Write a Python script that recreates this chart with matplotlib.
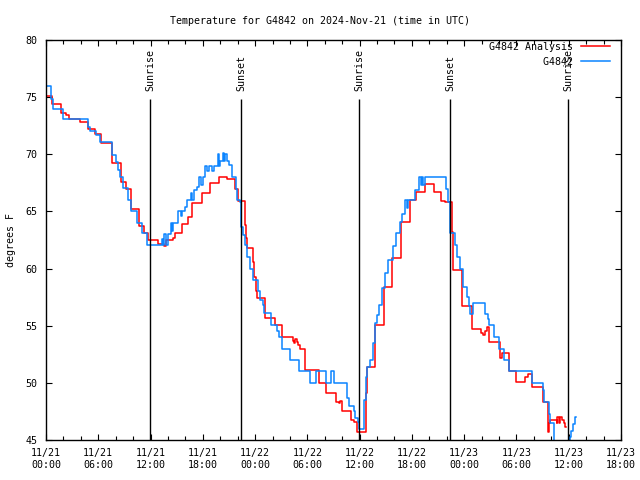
import matplotlib
matplotlib.use("Agg")
import matplotlib.pyplot as plt
import matplotlib.dates as mdates
import pandas as pd
import numpy as np

start = pd.Timestamp("2024-11-21 00:00")

# hours since 2024-11-21 00:00 UTC, step values (deg F)
obs_hours = [0.0, 0.6, 0.85, 2.0, 4.8, 5.0, 5.7, 6.2, 7.6, 8.0, 8.3, 8.5, 8.8, 9.4, 9.8,
             10.4, 11.0, 11.6, 13.3, 13.4, 13.6, 13.8, 14.0, 14.3, 14.5, 14.6, 15.1, 15.2,
             15.5, 15.6, 16.0, 16.2, 16.6, 16.8, 17.0, 17.3, 17.6, 17.8, 18.0, 18.3, 18.5,
             18.7, 19.0, 19.3, 19.7, 19.8, 20.0, 20.3, 20.45, 20.6, 20.8, 21.0, 21.4, 21.8,
             21.95, 22.3, 22.4, 22.6, 22.8, 23.1, 23.4, 23.8, 24.3, 24.6, 24.9, 25.0, 25.8,
             26.5, 26.7, 27.1, 28.0, 29.0, 30.3, 31.0, 32.1, 32.7, 33.0, 34.5, 34.8, 35.3,
             35.5, 35.8, 35.9, 36.5, 36.7, 36.9, 37.2, 37.5, 37.8, 38.0, 38.2, 38.6, 38.9,
             39.2, 39.8, 40.2, 40.6, 40.9, 41.2, 41.4, 41.6, 42.4, 42.8, 43.0, 43.2, 43.3,
             43.5, 45.9, 46.1, 46.4, 46.9, 47.2, 47.5, 47.9, 48.3, 48.5, 48.7, 49.0, 50.4,
             50.7, 50.9, 51.4, 52.0, 52.6, 53.1, 55.8, 57.0, 57.2, 57.7, 57.8, 58.3, 60.1,
             60.3, 60.5, 60.7, 60.8]
obs_vals = [76.0, 74.8, 74.0, 73.06, 72.4, 72.0, 71.7, 71.1, 69.9, 69.3, 68.6, 68.0, 67.05,
            66.0, 65.0, 64.0, 63.1, 62.06, 62.6, 62.06, 63.0, 62.06, 63.0, 64.0, 63.3, 64.0,
            64.5, 65.0, 64.6, 65.0, 65.4, 66.0, 66.6, 66.0, 66.9, 67.1, 68.0, 67.3, 68.0,
            69.0, 68.5, 69.0, 68.5, 69.0, 70.0, 69.0, 69.4, 70.1, 69.4, 70.0, 69.4, 69.06,
            68.0, 67.0, 66.0, 65.8, 63.6, 62.9, 62.1, 61.0, 60.0, 59.0, 58.0, 57.25, 56.8,
            56.1, 55.1, 54.5, 54.0, 53.0, 52.0, 51.0, 50.0, 51.0, 50.0, 51.0, 50.0, 48.65,
            48.0, 47.5, 46.95, 46.55, 46.0, 48.5, 50.5, 51.4, 52.0, 53.5, 55.2, 55.9, 56.8,
            58.3, 59.6, 60.75, 62.0, 63.1, 64.1, 64.8, 66.0, 65.3, 66.0, 66.9, 68.0, 67.3,
            68.0, 67.3, 68.0, 67.0, 65.8, 63.1, 62.06, 61.0, 60.0, 58.4, 57.5, 56.7, 56.0,
            57.0, 56.0, 55.6, 55.06, 54.0, 53.0, 52.0, 51.0, 50.0, 49.4, 48.3, 47.3, 46.5,
            44.0, 45.3, 45.8, 46.4, 47.0, 47.0]

ana_hours = [0.0, 0.7, 1.7, 2.3, 2.6, 3.9, 4.8, 5.6, 6.3, 7.6, 8.6, 9.2, 9.7, 10.7, 11.3,
             11.7, 12.9, 13.6, 13.8, 14.6, 14.8, 15.6, 16.3, 16.8, 17.9, 18.8, 19.9, 20.8,
             21.7, 22.0, 22.8, 22.95, 23.1, 23.8, 23.9, 24.1, 24.2, 25.1, 26.3, 27.1, 28.3,
             28.5, 28.6, 28.8, 28.9, 29.2, 29.7, 31.3, 32.1, 33.3, 33.6, 33.8, 34.0, 35.0,
             35.4, 35.65, 36.7, 36.8, 37.8, 38.8, 39.7, 40.8, 41.8, 42.5, 43.5, 44.5, 45.3,
             45.8, 46.55, 46.7, 47.8, 48.9, 49.9, 50.2, 50.4, 50.6, 50.8, 52.1, 52.3, 53.2,
             54.0, 55.0, 55.3, 55.8, 57.0, 57.65, 57.75, 57.85, 58.6, 58.7, 58.9, 59.0,
             59.2, 59.4, 59.6, 59.7]
ana_vals = [75.1, 74.4, 73.6, 73.4, 73.06, 72.8, 72.2, 71.8, 71.0, 69.2, 67.6, 67.0, 65.2,
            63.7, 63.1, 62.5, 62.15, 62.0, 62.5, 62.65, 63.1, 63.9, 64.5, 65.7, 66.6, 67.5,
            68.0, 67.8, 67.0, 65.9, 63.8, 62.7, 61.8, 60.6, 59.3, 58.0, 57.4, 55.65, 55.1,
            54.0, 53.7, 53.5, 53.8, 53.6, 53.3, 53.0, 51.1, 50.0, 49.1, 48.35, 48.2, 48.4,
            47.5, 46.75, 46.6, 45.7, 49.1, 51.4, 55.06, 58.4, 60.9, 64.1, 66.0, 66.7, 67.4,
            66.7, 65.9, 65.8, 63.2, 59.9, 56.7, 54.7, 54.4, 54.2, 54.5, 54.9, 53.6, 52.15,
            52.6, 51.0, 50.1, 50.5, 50.8, 49.65, 48.35, 45.7, 46.5, 46.75, 46.5, 47.0, 46.5,
            47.0, 46.75, 46.5, 46.1, 46.1]

sun_hours = [11.95, 22.38, 35.93, 46.37, 59.92]
sun_labels = ["Sunrise", "Sunset", "Sunrise", "Sunset", "Sunrise"]

series_labels = ["G4842 Analysis", "G4842"]

def to_time(h):
    return start + pd.to_timedelta(np.asarray(h), unit="h")

mono = "DejaVu Sans Mono"
fs = 7.2
plt.rcParams["font.family"] = mono
plt.rcParams["font.size"] = fs

fig = plt.figure(figsize=(6.4, 4.8), dpi=100)
ax = fig.add_axes([46 / 640, 40 / 480, 575 / 640, 400 / 480])

w = max(len(s) for s in series_labels)
ax.step(to_time(ana_hours), ana_vals, where="post", color="#ff0000", lw=1.1,
        label=series_labels[0].rjust(w))
ax.step(to_time(obs_hours), obs_vals, where="post", color="#0a84ff", lw=1.1,
        label=series_labels[1].rjust(w))

for h, lab in zip(sun_hours, sun_labels):
    t = to_time([h])[0]
    ax.vlines(t, 45, 74.8, color="black", lw=1.0)
    ax.text(t, 75.5, lab, rotation=90, ha="center", va="bottom", fontsize=fs,
            family=mono)

ax.set_ylim(45, 80)
ax.set_xlim(to_time([0])[0], to_time([66])[0])
ax.set_yticks(np.arange(45, 81, 5))
ax.xaxis.set_major_locator(mdates.HourLocator(byhour=[0, 6, 12, 18]))
ax.xaxis.set_minor_locator(mdates.HourLocator(byhour=range(0, 24, 2)))
ax.xaxis.set_major_formatter(mdates.DateFormatter("%m/%d\n%H:%M"))
ax.tick_params(which="both", direction="in", top=True, right=True, width=0.8)
ax.tick_params(which="major", length=4, labelsize=fs)
ax.tick_params(axis="x", which="major", pad=6)
ax.tick_params(axis="y", which="major", pad=6)
ax.tick_params(which="minor", length=3)
for s in ax.spines.values():
    s.set_linewidth(1.0)

ax.set_ylabel("degrees F", fontsize=fs)
ax.yaxis.set_label_coords(-0.052, 0.5)
fig.suptitle("Temperature for G4842 on 2024-Nov-21 (time in UTC)", y=0.967, fontsize=fs)

leg = ax.legend(loc="upper right", bbox_to_anchor=(0.981, 0.995), frameon=False,
                markerfirst=False, handlelength=2.9, handletextpad=0.8,
                labelspacing=0.5, borderaxespad=0, borderpad=0, fontsize=fs)

fig.savefig("out.png", dpi=100)
